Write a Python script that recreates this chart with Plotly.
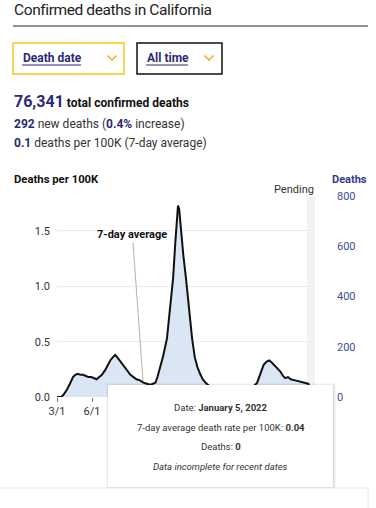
import plotly.graph_objects as go

# ---------------- data ----------------
dates = [
    "2020-03-01", "2020-03-12", "2020-03-18", "2020-03-26", "2020-04-04", "2020-04-12",
    "2020-04-18", "2020-04-25", "2020-05-02", "2020-05-09", "2020-05-16", "2020-05-23",
    "2020-05-30", "2020-06-06", "2020-06-13", "2020-06-20", "2020-06-27", "2020-07-05",
    "2020-07-12", "2020-07-19", "2020-07-26", "2020-08-01", "2020-08-06", "2020-08-13",
    "2020-08-20", "2020-08-27", "2020-09-03", "2020-09-10", "2020-09-18", "2020-09-26",
    "2020-10-05", "2020-10-14", "2020-10-23", "2020-11-01", "2020-11-08", "2020-11-15",
    "2020-11-20", "2020-11-27", "2020-12-05", "2020-12-15", "2020-12-22", "2020-12-31",
    "2021-01-06", "2021-01-10", "2021-01-13", "2021-01-16", "2021-01-21", "2021-01-27",
    "2021-02-03", "2021-02-10", "2021-02-19", "2021-02-26", "2021-03-05", "2021-03-12",
    "2021-03-19", "2021-03-26", "2021-04-05", "2021-04-20", "2021-05-10", "2021-06-01",
    "2021-06-20", "2021-07-05", "2021-07-20", "2021-08-01", "2021-08-09", "2021-08-18",
    "2021-08-26", "2021-09-03", "2021-09-10", "2021-09-17", "2021-09-25", "2021-10-02",
    "2021-10-09", "2021-10-16", "2021-10-22", "2021-10-29", "2021-11-05", "2021-11-17",
    "2021-11-30", "2021-12-07", "2021-12-14", "2021-12-21", "2021-12-28", "2022-01-05",
]
rate_7day = [
    0.00, 0.00, 0.02, 0.06, 0.12, 0.18,
    0.20, 0.21, 0.20, 0.20, 0.19, 0.18,
    0.18, 0.17, 0.16, 0.18, 0.20, 0.24,
    0.29, 0.33, 0.36, 0.38, 0.36, 0.33,
    0.29, 0.26, 0.23, 0.20, 0.18, 0.16,
    0.15, 0.13, 0.12, 0.11, 0.12, 0.13,
    0.18, 0.27, 0.37, 0.53, 0.75, 1.07,
    1.40, 1.63, 1.73, 1.70, 1.50, 1.28,
    1.07, 0.82, 0.53, 0.36, 0.27, 0.21,
    0.16, 0.13, 0.10, 0.07, 0.05, 0.04,
    0.03, 0.04, 0.07, 0.10, 0.13, 0.21,
    0.29, 0.32, 0.33, 0.31, 0.28, 0.25,
    0.23, 0.19, 0.17, 0.18, 0.16, 0.15,
    0.14, 0.13, 0.13, 0.12, 0.08, 0.04,
]
tick_dates = ["2020-03-01", "2020-06-01", "2020-09-01", "2020-12-01",
              "2021-03-01", "2021-06-01", "2021-09-01", "2021-12-01"]
tick_labels = ["3/1", "6/1", "9/1", "12/1", "3/1", "6/1", "9/1", "12/1"]
visible_tick_labels = 2  # the rest sit under the hover card in the reference
left_ticks = [0, 0.5, 1.0, 1.5]
right_ticks = [0, 200, 400, 600, 800]
x_range = ["2020-03-01", "2022-01-08"]
pending_range = ["2021-12-18", "2022-01-08"]

# ---------------- geometry helpers ----------------
W, H = 376, 508
L, R, T, B = 57, 61, 196, 111
PW, PH = W - L - R, H - T - B


def px(x):
    return (x - L) / PW


def py(y):
    return (H - B - y) / PH


FONT = "Roboto"
NAVY = "#2b2a78"
AXBLUE = "#3d4ca0"
ORANGE = "#f5a623"

fig = go.Figure()
fig.add_trace(go.Scatter(
    x=dates, y=rate_7day, mode="lines",
    line=dict(color="#111111", width=2),
    fill="tozeroy", fillcolor="#dae6f4",
    hoverinfo="skip", showlegend=False,
))
# invisible trace to anchor right axis
fig.add_trace(go.Scatter(x=[dates[0]], y=[0], yaxis="y2", mode="markers",
                         marker=dict(opacity=0), hoverinfo="skip", showlegend=False))

shapes = []
annotations = []

# pending band
shapes.append(dict(type="rect", xref="x", yref="paper", x0=pending_range[0], x1=pending_range[1],
                   y0=0, y1=1, fillcolor="#f2f2f2", line=dict(width=0), layer="between"))

# title underline
shapes.append(dict(type="line", xref="paper", yref="paper", x0=px(13), x1=px(368),
                   y0=py(26), y1=py(26), line=dict(color="#222222", width=1), layer="above"))

# dropdown boxes
shapes.append(dict(type="rect", xref="paper", yref="paper", x0=px(13), x1=px(124),
                   y0=py(74), y1=py(43), line=dict(color="#f7c616", width=1.5),
                   fillcolor="white", layer="above"))
shapes.append(dict(type="rect", xref="paper", yref="paper", x0=px(137), x1=px(222),
                   y0=py(74), y1=py(43), line=dict(color="#111111", width=1.5),
                   fillcolor="white", layer="above"))
for cx in (112, 209):
    path = "M {} {} L {} {} L {} {}".format(px(cx - 4.5), py(55.5), px(cx), py(60),
                                            px(cx + 4.5), py(55.5))
    shapes.append(dict(type="path", xref="paper", yref="paper", path=path,
                       line=dict(color=ORANGE, width=1.5), layer="above"))
# underlines of dropdown texts
shapes.append(dict(type="line", xref="paper", yref="paper", x0=px(22), x1=px(81),
                   y0=py(65), y1=py(65), line=dict(color=NAVY, width=1), layer="above"))
shapes.append(dict(type="line", xref="paper", yref="paper", x0=px(146), x1=px(188),
                   y0=py(65), y1=py(65), line=dict(color=NAVY, width=1), layer="above"))

# 7-day average pointer line
shapes.append(dict(type="line", xref="paper", yref="paper", x0=px(133), x1=px(143),
                   y0=py(243), y1=py(381), line=dict(color="#b0b0b0", width=1), layer="above"))

# tooltip (shadow + box)
for off, col in ((3, "rgba(0,0,0,0.03)"), (2, "rgba(0,0,0,0.05)"), (1, "rgba(0,0,0,0.07)")):
    shapes.append(dict(type="rect", xref="paper", yref="paper", x0=px(108 - off + 1),
                       x1=px(333 + off), y0=py(487 + off), y1=py(385 - off + 1),
                       fillcolor=col, line=dict(width=0), layer="above"))
shapes.append(dict(type="rect", xref="paper", yref="paper", x0=px(108), x1=px(333),
                   y0=py(487), y1=py(385), fillcolor="white", line=dict(width=0), layer="above"))

# bottom card
shapes.append(dict(type="rect", xref="paper", yref="paper", x0=px(-2), x1=px(368),
                   y0=py(530), y1=py(488), fillcolor="white",
                   line=dict(color="#e6e8f4", width=1), layer="above"))


def text(x, y, s, size=12, color="#222222", xanchor="left", yanchor="middle"):
    annotations.append(dict(xref="paper", yref="paper", x=px(x), y=py(y), text=s,
                            showarrow=False, xanchor=xanchor, yanchor=yanchor,
                            font=dict(family=FONT, size=size, color=color)))


text(12, 10, "<span style='letter-spacing:-0.4px'>Confirmed deaths in California</span>",
     size=15.5, color="#222222")
text(21, 58, "<b>Death date</b>", size=12, color=NAVY)
text(145, 58, "<b>All time</b>", size=12, color=NAVY)
text(12, 102, "<b><span style='font-size:16px;color:%s'>76,341</span> total confirmed deaths</b>" % NAVY,
     size=12, color="#111111")
text(12, 124, "<b><span style='color:%s'>292</span></b> new deaths (<b><span style='color:%s'>0.4%%</span></b> increase)"
     % (NAVY, NAVY), size=12, color="#333333")
text(12, 143, "<b><span style='color:%s'>0.1</span></b> deaths per 100K (7-day average)" % NAVY,
     size=12, color="#333333")
text(12, 180, "<b>Deaths per 100K</b>", size=11.3, color="#111111")
text(369, 180, "<b>Deaths</b>", size=11, color="#2f3b91", xanchor="right")
text(316, 190, "Pending", size=11, color="#333333", xanchor="right")
text(132, 234, "<b>7-day average</b>", size=11, color="#111111", xanchor="center")

text(220.5, 407, "Date: <b>January 5, 2022</b>", size=9.5, color="#333333", xanchor="center")
text(220.5, 427, "7-day average death rate per 100K: <b>0.04</b>", size=9.5, color="#333333",
     xanchor="center")
text(220.5, 446, "Deaths: <b>0</b>", size=9.5, color="#333333", xanchor="center")
text(220.5, 466, "<i>Data incomplete for recent dates</i>", size=9.5, color="#333333",
     xanchor="center")

shown_ticktext = [t if i < visible_tick_labels else "" for i, t in enumerate(tick_labels)]

fig.update_layout(
    width=W, height=H,
    margin=dict(l=L, r=R, t=T, b=B, pad=0),
    paper_bgcolor="white", plot_bgcolor="white",
    font=dict(family=FONT, size=11, color="#333333"),
    xaxis=dict(range=x_range, type="date", tickvals=tick_dates, ticktext=shown_ticktext,
               showgrid=False, zeroline=False, showline=False,
               ticks="outside", ticklen=4, tickcolor="#777777",
               tickfont=dict(family=FONT, size=11, color="#333333")),
    yaxis=dict(range=[0, 1.816], tickvals=left_ticks, tickformat=".1f",
               showgrid=True, gridcolor="#ececec", zeroline=False, showline=False,
               ticklabelstandoff=6,
               tickfont=dict(family=FONT, size=11, color="#333333")),
    yaxis2=dict(range=[0, 800], overlaying="y", side="right", tickvals=right_ticks,
                showgrid=False, zeroline=False, showline=False, ticklabelstandoff=21,
                tickfont=dict(family=FONT, size=11, color=AXBLUE)),
    shapes=shapes, annotations=annotations,
    hovermode=False, showlegend=False,
)

fig.write_html("out.html", config={"displayModeBar": False},
               post_script="document.body.style.margin='0';document.body.style.overflow='hidden';")
